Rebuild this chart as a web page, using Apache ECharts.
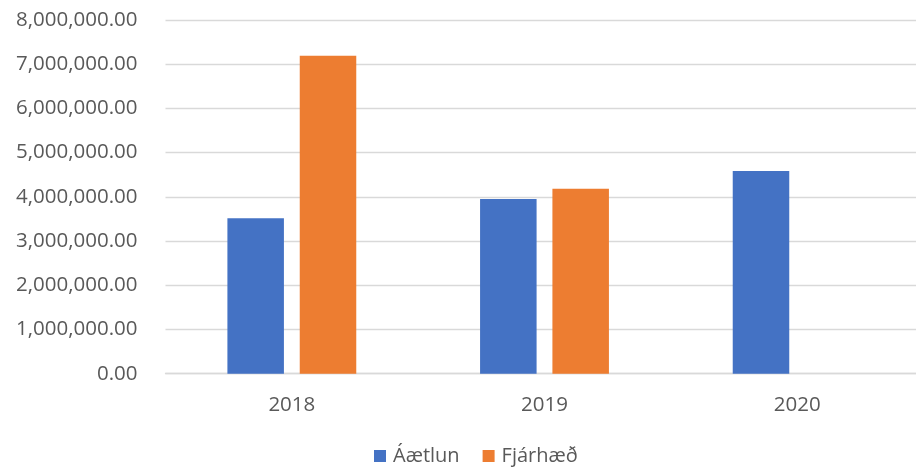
<!DOCTYPE html>
<html><head><meta charset="utf-8">
<script src="https://cdn.jsdelivr.net/npm/echarts@6/dist/echarts.min.js"></script>
<style>html,body{margin:0;padding:0;background:#fff;overflow:hidden}#c{width:924px;height:473px}</style>
</head><body><div id="c"></div>
<script>
const categories = ['2018', '2019', '2020'];
const aaetlun = [3515000, 3950000, 4585000];
const fjarhaed = [7193000, 4185000, null];
const seriesNames = ['Áætlun', 'Fjárhæð'];

const font = '"Open Sans", "Liberation Sans", sans-serif';
const chart = echarts.init(document.getElementById('c'));
chart.setOption({
  animation: false,
  grid: { left: 165.5, right: 0.5, top: 20, bottom: 99.3, containLabel: false },
  legend: {
    bottom: 2, left: 369,
    itemWidth: 12, itemHeight: 12, itemGap: 23,
    icon: 'rect',
    textStyle: { fontFamily: font, fontSize: 20, color: '#595959', padding: [0, 0, 0, 2] },
    data: seriesNames
  },
  xAxis: {
    type: 'category', data: categories,
    axisLine: { lineStyle: { color: '#d9d9d9', width: 1.3 } },
    axisTick: { show: false },
    axisLabel: { fontFamily: font, fontSize: 20.5, color: '#595959', margin: 21 }
  },
  yAxis: {
    type: 'value', min: 0, max: 8000000, interval: 1000000,
    axisLine: { show: false }, axisTick: { show: false },
    splitLine: { lineStyle: { color: '#d9d9d9', width: 1.3 } },
    axisLabel: {
      fontFamily: font, fontSize: 20.5, color: '#595959', margin: 28,
      formatter: v => v.toLocaleString('en-US', { minimumFractionDigits: 2, maximumFractionDigits: 2 })
    }
  },
  series: [
    { name: seriesNames[0], type: 'bar', data: aaetlun, itemStyle: { color: '#4472c4' },
      barGap: '28%', barCategoryGap: '49%' },
    { name: seriesNames[1], type: 'bar', data: fjarhaed, itemStyle: { color: '#ed7d31' } }
  ]
});
</script></body></html>
